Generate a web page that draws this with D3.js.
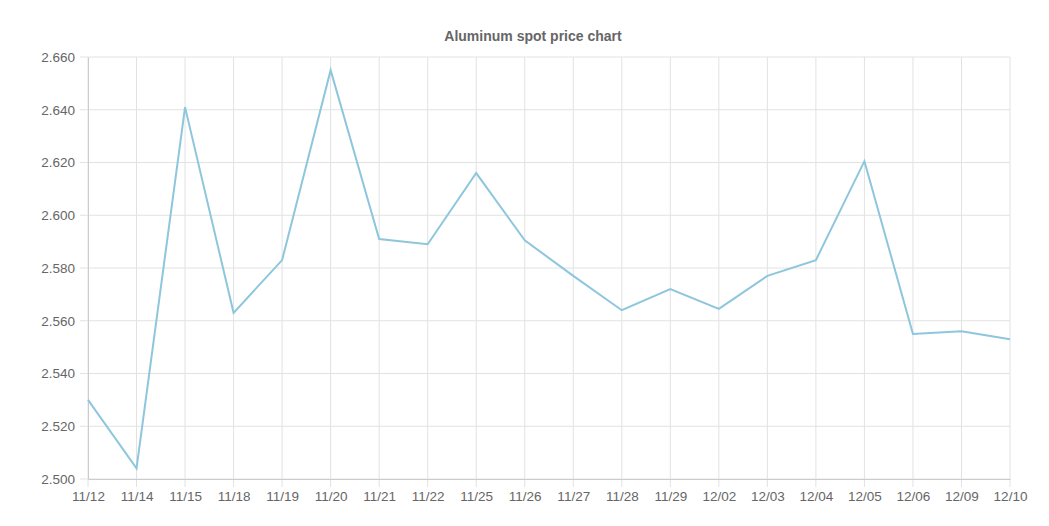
<!doctype html>
<html lang="en">
<head>
<meta charset="UTF-8">
<style>
  body { margin: 0; background: #fff; }
  text { font-family: "Helvetica Neue", Helvetica, Arial, "Liberation Sans", sans-serif; }
</style>
</head>
<body>
<div class="svg"></div>
<script src="https://d3js.org/d3.v7.min.js"></script>
<script>
  const dates = ['11/12', '11/14', '11/15', '11/18', '11/19', '11/20', '11/21', '11/22', '11/25', '11/26',
    '11/27', '11/28', '11/29', '12/02', '12/03', '12/04', '12/05', '12/06', '12/09', '12/10']
  const prices = [2.530, 2.504, 2.641, 2.563, 2.583, 2.655, 2.591, 2.589, 2.616, 2.5905,
    2.577, 2.564, 2.572, 2.5645, 2.577, 2.583, 2.6205, 2.555, 2.556, 2.553]
  const yTicks = [2.500, 2.520, 2.540, 2.560, 2.580, 2.600, 2.620, 2.640, 2.660]

  const width = 1049
  const height = 526
  const margin = {top: 57, right: 39, bottom: 47, left: 88}

  const svg = d3.select('.svg').append('svg')
    .attr('width', width)
    .attr('height', height)

  svg.append('text')
    .text('Aluminum spot price chart')
    .attr('x', 533)
    .attr('y', 41)
    .attr('text-anchor', 'middle')
    .attr('font-size', 14)
    .attr('font-weight', 'bold')
    .attr('fill', '#666')

  const x = d3.scalePoint().domain(dates).range([margin.left, width - margin.right])
  const y = d3.scaleLinear().domain([2.5, 2.66]).range([height - margin.bottom, margin.top])

  // grid
  svg.append('g')
    .selectAll('line.h')
    .data(yTicks)
    .enter().append('line')
    .attr('x1', margin.left - 8)
    .attr('x2', width - margin.right)
    .attr('y1', d => y(d))
    .attr('y2', d => y(d))
    .attr('stroke', '#e2e2e2')

  svg.append('g')
    .selectAll('line.v')
    .data(dates)
    .enter().append('line')
    .attr('x1', d => x(d))
    .attr('x2', d => x(d))
    .attr('y1', margin.top)
    .attr('y2', height - margin.bottom + 8)
    .attr('stroke', '#e2e2e2')

  const yAxis = d3.axisLeft(y).tickValues(yTicks).tickFormat(d3.format('.3f')).tickSize(0).tickPadding(13)
  svg.append('g')
    .attr('transform', `translate(${margin.left}, 0)`)
    .call(yAxis)
    .call(g => g.select('.domain').attr('stroke', '#ccc'))
    .call(g => g.selectAll('text').attr('font-size', 13.5).attr('fill', '#666'))

  const xAxis = d3.axisBottom(x).tickSize(0).tickPadding(12)
  svg.append('g')
    .attr('transform', `translate(0, ${height - margin.bottom})`)
    .call(xAxis)
    .call(g => g.select('.domain').attr('stroke', '#ccc'))
    .call(g => g.selectAll('text').attr('font-size', 13.5).attr('fill', '#666'))

  const line = d3.line()
    .x((d, i) => x(dates[i]))
    .y(d => y(d))

  svg.append('path')
    .datum(prices)
    .attr('d', line)
    .attr('fill', 'none')
    .attr('stroke', '#8ec6dd')
    .attr('stroke-width', 2)
</script>
</body>
</html>
